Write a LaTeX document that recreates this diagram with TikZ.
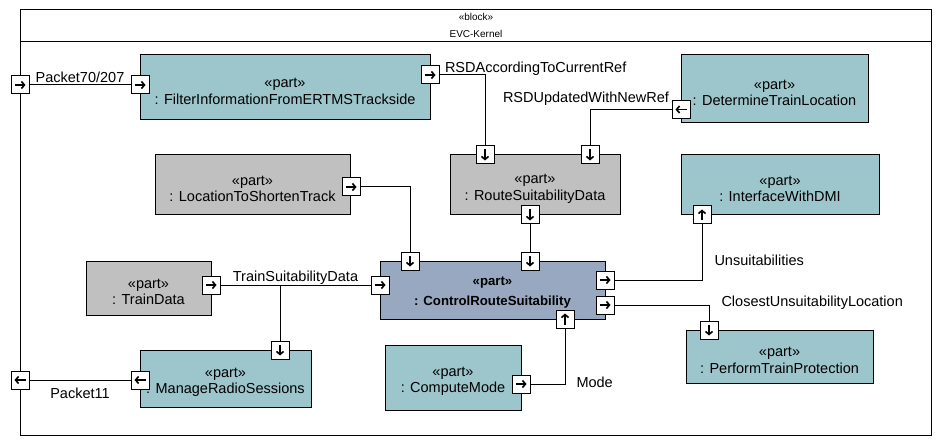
\documentclass[tikz,border=0pt]{standalone}
\usepackage{fontspec}
\setmainfont{Liberation Sans}
\usepackage{tikz}
\usetikzlibrary{arrows.meta, positioning}
\definecolor{partteal}{RGB}{157,198,204}
\definecolor{partgray}{RGB}{192,192,192}
\definecolor{partblue}{RGB}{152,168,192}
\newcommand{\partof}[2][17pt]{\rule{0pt}{#1}«part»\\#2}
\tikzstyle{part} = [rectangle, draw=black, line width=1pt, align=center, inner sep=2pt, font=\fontsize{14.5}{16.5}\selectfont]
\tikzstyle{conn} = [line width=1pt]
\tikzstyle{lbl} = [font=\fontsize{14.5}{17}\selectfont, inner sep=2pt]
\tikzstyle{head} = [font=\fontsize{10}{12}\selectfont, inner sep=0pt, text height=8pt, text depth=2pt]
\tikzset{port/.style={rectangle, draw=black, fill=white, line width=1pt, minimum size=18pt, inner sep=0pt,
    path picture={\draw[line width=1.6pt, -{Straight Barb[length=3pt, width=7pt]}]
      ([shift={(#1:-5.5pt)}]path picture bounding box.center) -- ([shift={(#1:5.5pt)}]path picture bounding box.center);}}}

\begin{document}
\begin{tikzpicture}[x=1pt, y=-1pt]
\useasboundingbox (0,0) rectangle (941,446);
% block frame
\draw[line width=1pt] (20,10) rectangle (931,435);
\draw[line width=1pt] (20,42) -- (931,42);
\node[head] (stereo) at (476,18) {«block»};
\node[head, below=6pt of stereo] (kernel) {EVC-Kernel};

% parts
\node[part, fill=partteal, minimum width=290pt, minimum height=65pt] (filter) at (285,87.5) {\partof{: FilterInformationFromERTMSTrackside}};
\node[part, fill=partteal, minimum width=187pt, minimum height=68pt] (dtl) at (774.5,89) {\partof{: DetermineTrainLocation}};
\node[part, fill=partgray, minimum width=195pt, minimum height=60pt] (lst) at (252.5,185) {\partof{: LocationToShortenTrack}};
\node[part, fill=partgray, minimum width=170pt, minimum height=60pt] (rsd) at (535,185) {\partof{: RouteSuitabilityData}};
\node[part, fill=partteal, minimum width=198pt, minimum height=60pt] (dmi) at (780,185) {\partof{: InterfaceWithDMI}};
\node[part, fill=partgray, minimum width=125pt, minimum height=54pt] (td) at (148.5,288) {\partof{: TrainData}};
\node[part, fill=partblue, minimum width=225pt, minimum height=58pt, font=\fontsize{13.2}{20.5}\selectfont\bfseries] (crs) at (492.5,290) {\partof[14pt]{: ControlRouteSuitability}};
\node[part, fill=partteal, minimum width=171pt, minimum height=57pt] (mrs) at (225.5,378.5) {\partof{: ManageRadioSessions}};
\node[part, fill=partteal, minimum width=136pt, minimum height=65pt] (cm) at (453,377.5) {\partof{: ComputeMode}};
\node[part, fill=partteal, minimum width=187pt, minimum height=53pt] (ptp) at (779.5,356.5) {\partof{: PerformTrainProtection}};

% ports
\node[port=0] (frame-in) at (20,85) {};
\node[port=180] (frame-out) at (20,380) {};
\node[port=0] (filter-in) at (140,85) {};
\node[port=0] (filter-out) at (430,75) {};
\node[port=180] (dtl-out) at (681,109.5) {};
\node[port=270] (rsd-in1) at (485,155) {};
\node[port=270] (rsd-in2) at (590,155) {};
\node[port=270] (rsd-out) at (530,215) {};
\node[port=0] (lst-out) at (351,187) {};
\node[port=90] (dmi-in) at (702,215) {};
\node[port=0] (td-out) at (211,285) {};
\node[port=270] (crs-in1) at (410,261) {};
\node[port=270] (crs-in2) at (530,261) {};
\node[port=0] (crs-in3) at (380,285) {};
\node[port=90] (crs-in4) at (565,319) {};
\node[port=0] (crs-out1) at (605,280) {};
\node[port=0] (crs-out2) at (605,305) {};
\node[port=270] (mrs-in) at (280,350) {};
\node[port=180] (mrs-out) at (140,380) {};
\node[port=0] (cm-out) at (521,384) {};
\node[port=270] (ptp-in) at (709,330) {};

% connectors
\draw[conn] (frame-in) -- node[above, lbl] (l-p70) {Packet70/207} (filter-in);
\draw[conn] (filter-out) -| node[pos=0, anchor=south west, lbl, xshift=3pt, yshift=-3pt] (l-rsdacc) {RSDAccordingToCurrentRef} (rsd-in1);
\draw[conn] (dtl-out) -| node[pos=0, anchor=south east, lbl, yshift=1pt] (l-rsdupd) {RSDUpdatedWithNewRef} (rsd-in2);
\draw[conn] (rsd-out) -- (crs-in2);
\draw[conn] (lst-out) -| (crs-in1);
\draw[conn] (td-out) -- node[above, lbl, yshift=-2pt] (l-tsd) {TrainSuitabilityData} (crs-in3);
\coordinate (tsd-split) at (mrs-in |- td-out);
\draw[conn] (tsd-split) -- (mrs-in);
\draw[conn] (crs-out1) -| node[pos=0.68, anchor=west, lbl, xshift=10pt] (l-uns) {Unsuitabilities} (dmi-in);
\draw[conn] (crs-out2) -| node[pos=0.5, anchor=west, lbl, xshift=10pt, yshift=2pt] (l-cul) {ClosestUnsuitabilityLocation} (ptp-in);
\draw[conn] (cm-out) -| node[pos=0.5, anchor=west, lbl, xshift=9pt, yshift=2pt] (l-mode) {Mode} (crs-in4);
\draw[conn] (mrs-out) -- node[below, lbl, yshift=-5pt] (l-p11) {Packet11} (frame-out);
\end{tikzpicture}
\end{document}
